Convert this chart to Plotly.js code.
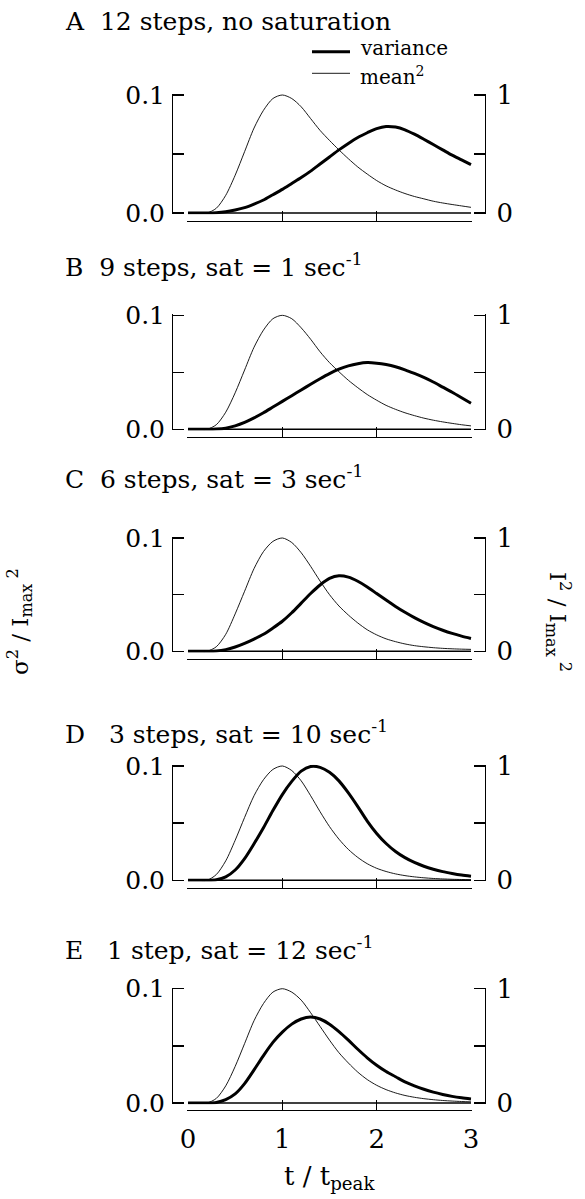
<!DOCTYPE html>
<html><head><meta charset="utf-8">
<script src="https://cdn.plot.ly/plotly-3.0.1.min.js"></script>
<style>html,body{margin:0;padding:0;background:#fff;}</style>
</head><body><div id="chart" style="width:585px;height:1199px;"></div>
<script>
// ---- data ----
const t = [0,0.1,0.2,0.3,0.4,0.5,0.6,0.7,0.8,0.9,1.0,1.1,1.2,1.3,1.4,1.5,1.6,1.7,1.8,1.9,2.0,2.1,2.2,2.3,2.4,2.5,2.6,2.7,2.8,2.9,3.0];

const panelTitles = [
  "A\u00a0\u00a012 steps, no saturation",
  "B\u00a0\u00a09 steps, sat = 1 sec<sup>-1</sup>",
  "C\u00a0\u00a06 steps, sat = 3 sec<sup>-1</sup>",
  "D\u00a0\u00a0\u00a03 steps, sat = 10 sec<sup>-1</sup>",
  "E\u00a0\u00a0\u00a01 step, sat = 12 sec<sup>-1</sup>"
];

const varA  = [0,0,0,0.0002,0.001,0.0025,0.0045,0.0075,0.011,0.0155,0.020,0.025,0.030,0.0355,0.0415,0.0475,0.0535,0.059,0.064,0.068,0.0715,0.0733,0.0728,0.0705,0.0668,0.0625,0.058,0.0535,0.049,0.045,0.041];
const meanA = [0,0,0,0.04,0.15,0.32,0.52,0.72,0.87,0.97,1.0,0.97,0.9,0.8,0.7,0.615,0.535,0.46,0.39,0.33,0.275,0.23,0.195,0.165,0.14,0.12,0.1,0.085,0.072,0.06,0.048];

const varB  = [0,0,0,0.0002,0.001,0.003,0.006,0.01,0.0145,0.0195,0.0245,0.0295,0.0345,0.0395,0.0443,0.0488,0.0527,0.0556,0.0575,0.0585,0.058,0.0568,0.0549,0.0522,0.049,0.0455,0.0415,0.037,0.0325,0.0277,0.0228];
const meanB = [0,0,0,0.04,0.15,0.32,0.52,0.72,0.87,0.97,1.0,0.97,0.89,0.79,0.68,0.585,0.505,0.43,0.365,0.305,0.255,0.21,0.175,0.145,0.12,0.098,0.08,0.065,0.052,0.04,0.03];

const varC  = [0,0,0,0.0003,0.0015,0.0038,0.007,0.0108,0.015,0.0205,0.0265,0.034,0.0425,0.051,0.0585,0.0643,0.0667,0.0655,0.0618,0.0568,0.051,0.0452,0.0396,0.0344,0.0297,0.0255,0.0218,0.0186,0.0158,0.0134,0.0113];
const meanC = [0,0,0,0.04,0.15,0.33,0.53,0.73,0.88,0.97,1.0,0.96,0.87,0.75,0.62,0.5,0.4,0.32,0.25,0.19,0.145,0.11,0.085,0.065,0.05,0.04,0.032,0.026,0.022,0.019,0.017];

const varD  = [0,0,0,0.0005,0.003,0.009,0.019,0.032,0.046,0.061,0.075,0.0865,0.0955,0.0995,0.0988,0.0945,0.087,0.0765,0.0645,0.0518,0.041,0.0322,0.0252,0.0198,0.0156,0.0123,0.0097,0.0076,0.006,0.0046,0.0035];
const meanD = [0,0,0,0.05,0.17,0.35,0.55,0.74,0.88,0.97,1.0,0.96,0.87,0.74,0.6,0.47,0.36,0.27,0.2,0.145,0.105,0.077,0.056,0.041,0.03,0.022,0.016,0.012,0.009,0.007,0.005];

const varE  = [0,0,0,0.0005,0.003,0.008,0.017,0.029,0.0415,0.053,0.062,0.069,0.0735,0.0752,0.0735,0.069,0.0625,0.055,0.047,0.0395,0.033,0.0275,0.023,0.0185,0.015,0.012,0.0095,0.0075,0.0058,0.0045,0.0035];
const meanE = [0,0,0,0.04,0.15,0.32,0.52,0.72,0.87,0.97,1.0,0.97,0.9,0.79,0.67,0.55,0.44,0.35,0.27,0.205,0.155,0.117,0.088,0.066,0.05,0.038,0.029,0.022,0.017,0.013,0.01];

const variances = [varA, varB, varC, varD, varE];
const means = [meanA, meanB, meanC, meanD, meanE];

const xTickVals = [0,1,2,3];
const xTickText = ["0","1","2","3"];
const leftTickVals = [0,0.1];
const leftTickText = ["0.0","0.1"];
const leftMinorTicks = [0.05];
const rightTickVals = [0,1];
const rightTickText = ["0","1"];
const rightMinorTicks = [0.5];
const legendNames = ["variance","mean<sup>2</sup>"];
const xTitle = "t / t<sub>peak</sub>";
const leftTitle = "σ<sup>2</sup> / I<sub>max</sub><sup> 2</sup>";
const rightTitle = "I<sup>2</sup> / I<sub>max</sub><sup> 2</sup>";

// ---- layout geometry (pixels) ----
const W = 585, H = 1199;
const px = v => v / W;
const py = v => 1 - v / H;
const FONT = "DejaVu Serif, Liberation Serif, serif";
const geo = [
  {zero:213.0, top:95.0,  bottom:220.5, base:29.3},
  {zero:429.3, top:315.3, bottom:436.7, base:273.3},
  {zero:651.3, top:538.0, bottom:658.8, base:485.0},
  {zero:880.3, top:766.0, bottom:887.5, base:740.5},
  {zero:1103.0,top:988.7, bottom:1110.0,base:956.0}
];
const X0 = 188, X3 = 471, YL = 172, YR = 485;
const EX = 0.01;   // tiny range padding so end ticks are drawn
const EY = 0.01;   // fraction of y span

const data = [];
const layout = {
  width: W, height: H,
  margin: {l:0, r:0, t:0, b:0},
  paper_bgcolor: "#fff", plot_bgcolor: "rgba(0,0,0,0)",
  showlegend: false,
  font: {family: FONT, color: "#000", size: 22},
  annotations: [], shapes: []
};

const tickStyle = {ticks: "inside", tickwidth: 1.4, tickcolor: "#000"};
const xpad = EX * (X3 - X0) / 3;
for (let i = 0; i < 5; i++) {
  const n = i + 1;
  const xa = n === 1 ? "x" : "x" + n;
  const ya = n === 1 ? "y" : "y" + n;
  const yr = "y" + (n + 5);
  data.push({x: t, y: means[i], xaxis: xa, yaxis: yr, type: "scatter", mode: "lines",
    line: {color: "#000", width: 0.9, shape: "spline", smoothing: 0.8}, cliponaxis: false, hoverinfo: "skip"});
  data.push({x: t, y: variances[i], xaxis: xa, yaxis: ya, type: "scatter", mode: "lines",
    line: {color: "#000", width: 3, shape: "spline", smoothing: 0.8}, cliponaxis: false, hoverinfo: "skip"});

  const g = geo[i];
  const ypad = EY * (g.zero - g.top);
  const dom = [py(g.zero + ypad), py(g.top - ypad)];
  layout["xaxis" + (n === 1 ? "" : n)] = Object.assign({
    domain: [px(X0 - xpad), px(X3 + xpad)], range: [-EX, 3 + EX], anchor: "free", position: py(g.bottom),
    showline: true, linecolor: "#000", linewidth: 1.4, mirror: false, ticklen: 10,
    tickmode: "array", tickvals: xTickVals, ticktext: xTickText,
    showticklabels: n === 5, tickfont: {family: FONT, size: 26}, ticklabelstandoff: 5,
    showgrid: false, zeroline: false, fixedrange: true
  }, tickStyle);
  layout["yaxis" + (n === 1 ? "" : n)] = Object.assign({
    domain: dom, range: [-EY * 0.1, 0.1 + EY * 0.1], anchor: "free", position: px(YL), side: "left",
    showline: true, linecolor: "#000", linewidth: 1.4, ticklen: 11,
    tickmode: "array", tickvals: leftTickVals, ticktext: leftTickText,
    minor: {tickmode: "array", tickvals: leftMinorTicks, ticks: "inside", ticklen: 11, tickwidth: 1.4, tickcolor: "#000", showgrid: false},
    tickfont: {family: FONT, size: 25}, ticklabelstandoff: 2,
    showgrid: false, zeroline: false, fixedrange: true
  }, tickStyle);
  layout["yaxis" + (n + 5)] = Object.assign({
    domain: dom, range: [-EY, 1 + EY], anchor: "free", position: px(YR), side: "right",
    overlaying: ya,
    showline: true, linecolor: "#000", linewidth: 1.4, ticklen: 11,
    tickmode: "array", tickvals: rightTickVals, ticktext: rightTickText,
    minor: {tickmode: "array", tickvals: rightMinorTicks, ticks: "inside", ticklen: 11, tickwidth: 1.4, tickcolor: "#000", showgrid: false},
    tickfont: {family: FONT, size: 26}, ticklabelstandoff: 5,
    showgrid: false, zeroline: false, fixedrange: true
  }, tickStyle);
  // top edge of the x-axis box at y = 0
  layout.shapes.push({type: "line", xref: xa, yref: ya, x0: 0, x1: 3, y0: 0, y1: 0,
    line: {color: "#000", width: 1.4}});
  // panel title
  layout.annotations.push({text: panelTitles[i], xref: "paper", yref: "paper",
    x: px(63), y: py(g.base - 8), xanchor: "left", yanchor: "middle", showarrow: false,
    font: {family: FONT, size: 25}});
}

// legend (panel A)
layout.shapes.push({type: "line", xref: "paper", yref: "paper", x0: px(312), x1: px(350), y0: py(51.7), y1: py(51.7), line: {color: "#000", width: 3}});
layout.shapes.push({type: "line", xref: "paper", yref: "paper", x0: px(312), x1: px(350), y0: py(73.3), y1: py(73.3), line: {color: "#000", width: 0.9}});
layout.annotations.push({text: legendNames[0], xref: "paper", yref: "paper", x: px(359), y: py(61), xanchor: "left", yanchor: "bottom", showarrow: false, borderpad: 0, font: {family: FONT, size: 20}});
layout.annotations.push({text: legendNames[1], xref: "paper", yref: "paper", x: px(359), y: py(61.5), xanchor: "left", yanchor: "top", showarrow: false, borderpad: 0, font: {family: FONT, size: 20}});

// axis titles
layout.annotations.push({text: xTitle, xref: "paper", yref: "paper", x: px(329.5), y: py(1177), xanchor: "center", yanchor: "middle", showarrow: false, font: {family: FONT, size: 26}});
layout.annotations.push({text: leftTitle, xref: "paper", yref: "paper", x: px(19), y: py(622), xanchor: "center", yanchor: "middle", textangle: -90, showarrow: false, font: {family: FONT, size: 23}});
layout.annotations.push({text: rightTitle, xref: "paper", yref: "paper", x: px(559), y: py(622), xanchor: "center", yanchor: "middle", textangle: 90, showarrow: false, font: {family: FONT, size: 23}});

Plotly.newPlot("chart", data, layout, {staticPlot: true, displayModeBar: false});
</script>
</body></html>
